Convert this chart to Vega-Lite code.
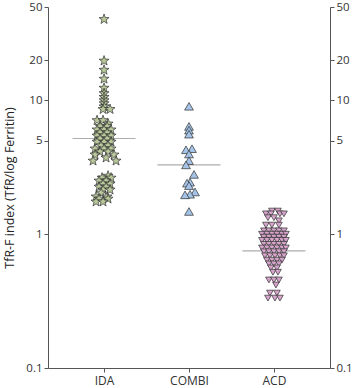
{
  "$schema": "https://vega.github.io/schema/vega-lite/v6.json",
  "width": 282,
  "height": 361,
  "autosize": "none",
  "padding": {"left": 48, "top": 7, "right": 25, "bottom": 20},
  "config": {
    "view": {"stroke": null},
    "font": "Open Sans",
    "axis": {
      "domainColor": "#555",
      "tickColor": "#555",
      "labelColor": "#333",
      "titleColor": "#222",
      "labelFontSize": 11.5,
      "titleFontSize": 12,
      "titleFontWeight": "normal",
      "grid": false,
      "tickSize": 4,
      "domainWidth": 1,
      "tickWidth": 1
    }
  },
  "datasets": {
    "med": [
      {"g": "IDA", "v": 5.2},
      {"g": "COMBI", "v": 3.3},
      {"g": "ACD", "v": 0.75}
    ],
    "pts": [
      {"g": "IDA", "v": 40.5, "dx": 0},
      {"g": "IDA", "v": 19.8, "dx": 0},
      {"g": "IDA", "v": 16.9, "dx": 0},
      {"g": "IDA", "v": 14.5, "dx": 0},
      {"g": "IDA", "v": 12.4, "dx": 0},
      {"g": "IDA", "v": 11.3, "dx": 0},
      {"g": "IDA", "v": 10.6, "dx": 0},
      {"g": "IDA", "v": 10.0, "dx": 0},
      {"g": "IDA", "v": 9.5, "dx": 0},
      {"g": "IDA", "v": 9.0, "dx": 0},
      {"g": "IDA", "v": 8.6, "dx": -1},
      {"g": "IDA", "v": 8.6, "dx": 6},
      {"g": "IDA", "v": 7.1, "dx": -7},
      {"g": "IDA", "v": 7.1, "dx": -1},
      {"g": "IDA", "v": 6.7, "dx": 4},
      {"g": "IDA", "v": 6.4, "dx": -4},
      {"g": "IDA", "v": 6.4, "dx": 3},
      {"g": "IDA", "v": 6.05, "dx": -7},
      {"g": "IDA", "v": 6.05, "dx": 0},
      {"g": "IDA", "v": 6.05, "dx": 7},
      {"g": "IDA", "v": 5.75, "dx": -4},
      {"g": "IDA", "v": 5.75, "dx": 3},
      {"g": "IDA", "v": 5.45, "dx": -7},
      {"g": "IDA", "v": 5.45, "dx": 0},
      {"g": "IDA", "v": 5.45, "dx": 7},
      {"g": "IDA", "v": 5.18, "dx": -4},
      {"g": "IDA", "v": 5.18, "dx": 3},
      {"g": "IDA", "v": 4.9, "dx": -7},
      {"g": "IDA", "v": 4.9, "dx": 0},
      {"g": "IDA", "v": 4.9, "dx": 7},
      {"g": "IDA", "v": 4.6, "dx": -3},
      {"g": "IDA", "v": 4.6, "dx": 4},
      {"g": "IDA", "v": 4.36, "dx": -9},
      {"g": "IDA", "v": 4.36, "dx": 0},
      {"g": "IDA", "v": 4.36, "dx": 7},
      {"g": "IDA", "v": 4.14, "dx": -4},
      {"g": "IDA", "v": 4.14, "dx": 4},
      {"g": "IDA", "v": 3.93, "dx": -9},
      {"g": "IDA", "v": 3.93, "dx": 10},
      {"g": "IDA", "v": 3.73, "dx": 2},
      {"g": "IDA", "v": 3.54, "dx": -11},
      {"g": "IDA", "v": 3.54, "dx": 12},
      {"g": "IDA", "v": 2.73, "dx": 4},
      {"g": "IDA", "v": 2.64, "dx": -2},
      {"g": "IDA", "v": 2.64, "dx": 7},
      {"g": "IDA", "v": 2.51, "dx": -5},
      {"g": "IDA", "v": 2.51, "dx": 2},
      {"g": "IDA", "v": 2.38, "dx": -1},
      {"g": "IDA", "v": 2.38, "dx": 6},
      {"g": "IDA", "v": 2.26, "dx": -5},
      {"g": "IDA", "v": 2.26, "dx": 2},
      {"g": "IDA", "v": 2.15, "dx": -1},
      {"g": "IDA", "v": 2.15, "dx": 6},
      {"g": "IDA", "v": 2.04, "dx": -3},
      {"g": "IDA", "v": 1.91, "dx": -8},
      {"g": "IDA", "v": 1.91, "dx": 3},
      {"g": "IDA", "v": 1.84, "dx": -5},
      {"g": "IDA", "v": 1.84, "dx": 4},
      {"g": "IDA", "v": 1.75, "dx": -8},
      {"g": "IDA", "v": 1.75, "dx": -1},
      {"g": "COMBI", "v": 9.05, "dx": 0},
      {"g": "COMBI", "v": 6.4, "dx": 0},
      {"g": "COMBI", "v": 6.0, "dx": 0},
      {"g": "COMBI", "v": 5.6, "dx": 0},
      {"g": "COMBI", "v": 4.36, "dx": 3},
      {"g": "COMBI", "v": 4.28, "dx": -3},
      {"g": "COMBI", "v": 3.98, "dx": 0},
      {"g": "COMBI", "v": 3.55, "dx": 0},
      {"g": "COMBI", "v": 3.3, "dx": -3},
      {"g": "COMBI", "v": 2.8, "dx": 5},
      {"g": "COMBI", "v": 2.45, "dx": 1},
      {"g": "COMBI", "v": 2.41, "dx": -2},
      {"g": "COMBI", "v": 2.31, "dx": 0},
      {"g": "COMBI", "v": 2.07, "dx": 6},
      {"g": "COMBI", "v": 1.99, "dx": 1},
      {"g": "COMBI", "v": 1.97, "dx": -4},
      {"g": "COMBI", "v": 1.48, "dx": 0},
      {"g": "ACD", "v": 1.49, "dx": -2},
      {"g": "ACD", "v": 1.49, "dx": 4},
      {"g": "ACD", "v": 1.42, "dx": -8},
      {"g": "ACD", "v": 1.42, "dx": -3},
      {"g": "ACD", "v": 1.42, "dx": 6},
      {"g": "ACD", "v": 1.42, "dx": 10},
      {"g": "ACD", "v": 1.33, "dx": -6},
      {"g": "ACD", "v": 1.33, "dx": 0},
      {"g": "ACD", "v": 1.26, "dx": 5},
      {"g": "ACD", "v": 1.17, "dx": -8},
      {"g": "ACD", "v": 1.17, "dx": -2},
      {"g": "ACD", "v": 1.17, "dx": 5},
      {"g": "ACD", "v": 1.06, "dx": -10},
      {"g": "ACD", "v": 1.06, "dx": -5},
      {"g": "ACD", "v": 1.06, "dx": 0},
      {"g": "ACD", "v": 1.06, "dx": 5},
      {"g": "ACD", "v": 1.06, "dx": 10},
      {"g": "ACD", "v": 1.0, "dx": -12},
      {"g": "ACD", "v": 1.0, "dx": -7},
      {"g": "ACD", "v": 1.0, "dx": -2},
      {"g": "ACD", "v": 1.0, "dx": 3},
      {"g": "ACD", "v": 1.0, "dx": 8},
      {"g": "ACD", "v": 1.0, "dx": 12},
      {"g": "ACD", "v": 0.95, "dx": -10},
      {"g": "ACD", "v": 0.95, "dx": -5},
      {"g": "ACD", "v": 0.95, "dx": 0},
      {"g": "ACD", "v": 0.95, "dx": 5},
      {"g": "ACD", "v": 0.95, "dx": 10},
      {"g": "ACD", "v": 0.9, "dx": -12},
      {"g": "ACD", "v": 0.9, "dx": -7},
      {"g": "ACD", "v": 0.9, "dx": -2},
      {"g": "ACD", "v": 0.9, "dx": 3},
      {"g": "ACD", "v": 0.9, "dx": 8},
      {"g": "ACD", "v": 0.9, "dx": 12},
      {"g": "ACD", "v": 0.84, "dx": -10},
      {"g": "ACD", "v": 0.84, "dx": -5},
      {"g": "ACD", "v": 0.84, "dx": 0},
      {"g": "ACD", "v": 0.84, "dx": 5},
      {"g": "ACD", "v": 0.84, "dx": 10},
      {"g": "ACD", "v": 0.79, "dx": -12},
      {"g": "ACD", "v": 0.79, "dx": -7},
      {"g": "ACD", "v": 0.79, "dx": -2},
      {"g": "ACD", "v": 0.79, "dx": 3},
      {"g": "ACD", "v": 0.79, "dx": 8},
      {"g": "ACD", "v": 0.79, "dx": 12},
      {"g": "ACD", "v": 0.74, "dx": -10},
      {"g": "ACD", "v": 0.74, "dx": -5},
      {"g": "ACD", "v": 0.74, "dx": 0},
      {"g": "ACD", "v": 0.74, "dx": 5},
      {"g": "ACD", "v": 0.74, "dx": 10},
      {"g": "ACD", "v": 0.69, "dx": -9},
      {"g": "ACD", "v": 0.69, "dx": -4},
      {"g": "ACD", "v": 0.69, "dx": 1},
      {"g": "ACD", "v": 0.69, "dx": 6},
      {"g": "ACD", "v": 0.69, "dx": 10},
      {"g": "ACD", "v": 0.64, "dx": -7},
      {"g": "ACD", "v": 0.64, "dx": -2},
      {"g": "ACD", "v": 0.64, "dx": 3},
      {"g": "ACD", "v": 0.64, "dx": 8},
      {"g": "ACD", "v": 0.6, "dx": -5},
      {"g": "ACD", "v": 0.6, "dx": 0},
      {"g": "ACD", "v": 0.6, "dx": 5},
      {"g": "ACD", "v": 0.56, "dx": -3},
      {"g": "ACD", "v": 0.56, "dx": 3},
      {"g": "ACD", "v": 0.52, "dx": -1},
      {"g": "ACD", "v": 0.52, "dx": 4},
      {"g": "ACD", "v": 0.455, "dx": -5},
      {"g": "ACD", "v": 0.455, "dx": 0},
      {"g": "ACD", "v": 0.455, "dx": 5},
      {"g": "ACD", "v": 0.417, "dx": 2},
      {"g": "ACD", "v": 0.363, "dx": -4},
      {"g": "ACD", "v": 0.363, "dx": 3},
      {"g": "ACD", "v": 0.333, "dx": -6},
      {"g": "ACD", "v": 0.333, "dx": 1},
      {"g": "ACD", "v": 0.333, "dx": 6}
    ]
  },
  "layer": [
    {
      "data": {"name": "med"},
      "mark": {"type": "tick", "size": 63, "thickness": 1.2, "color": "#8a8a8a"},
      "encoding": {
        "x": {"field": "g", "type": "nominal", "sort": ["IDA", "COMBI", "ACD"],
              "scale": {"type": "point", "padding": 0.66},
              "axis": {"title": null, "labelAngle": 0, "labelFontSize": 12, "labelPadding": 3, "labelColor": "#333"}},
        "y": {"field": "v", "type": "quantitative",
              "scale": {"type": "log", "domain": [0.1, 50], "nice": false},
              "axis": {"orient": "left", "values": [0.1, 1, 5, 10, 20, 50], "format": "~g", "labelColor": "#333",
                       "title": "TfR-F index (TfR/log Ferritin)", "titlePadding": 9, "titleFontSize": 12.5}}
      }
    },
    {
      "data": {"name": "pts"},
      "mark": {"type": "point", "filled": true, "opacity": 1, "stroke": "#2f2f2f", "strokeWidth": 0.7},
      "encoding": {
        "x": {"field": "g", "type": "nominal", "sort": ["IDA", "COMBI", "ACD"],
              "scale": {"type": "point", "padding": 0.66}},
        "xOffset": {"field": "dx", "type": "quantitative",
                    "scale": {"domain": [-20, 20], "range": [-20, 20]}},
        "y": {"field": "v", "type": "quantitative",
              "scale": {"type": "log", "domain": [0.1, 50], "nice": false},
              "axis": {"orient": "right", "values": [0.1, 1, 5, 10, 20, 50], "format": "~g", "title": null, "labelColor": "#333", "domainColor": "#555", "tickColor": "#555"}},
        "shape": {"field": "g", "type": "nominal", "legend": null,
                  "scale": {"domain": ["IDA", "COMBI", "ACD"],
                            "range": ["M0,-1L0.235,-0.324L0.951,-0.309L0.380,0.124L0.588,0.809L0,0.4L-0.588,0.809L-0.380,0.124L-0.951,-0.309L-0.235,-0.324Z", "triangle-up", "triangle-down"]}},
        "fill": {"field": "g", "type": "nominal", "legend": null,
                 "scale": {"domain": ["IDA", "COMBI", "ACD"], "range": ["#b9c99b", "#a4c3e6", "#d6a3cb"]}},
        "size": {"field": "g", "type": "nominal", "legend": null,
                 "scale": {"domain": ["IDA", "COMBI", "ACD"], "range": [110, 45, 45]}}
      }
    }
  ],
  "resolve": {"axis": {"y": "independent"}}
}
